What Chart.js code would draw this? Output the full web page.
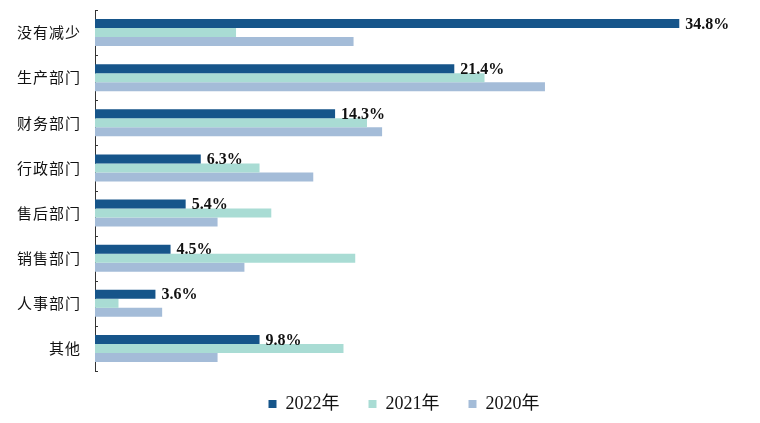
<!DOCTYPE html>
<html>
<head>
<meta charset="utf-8">
<script src="https://cdn.jsdelivr.net/npm/chart.js@4/dist/chart.umd.min.js"></script>
<style>
    html, body { margin: 0; padding: 0; background: #fff; }
    #wrap { width: 760px; height: 423px; }
</style>
</head>
<body>
<div id="wrap"><canvas id="deptChart"></canvas></div>
<script>
const categories = ['没有减少', '生产部门', '财务部门', '行政部门', '售后部门', '销售部门', '人事部门', '其他'];
const seriesNames = ['2022年', '2021年', '2020年'];
const values2022 = [34.8, 21.4, 14.3, 6.3, 5.4, 4.5, 3.6, 9.8];
const values2021 = [8.4, 23.2, 16.2, 9.8, 10.5, 15.5, 1.4, 14.8];
const values2020 = [15.4, 26.8, 17.1, 13.0, 7.3, 8.9, 4.0, 7.3];
const labels2022 = ['34.8%', '21.4%', '14.3%', '6.3%', '5.4%', '4.5%', '3.6%', '9.8%'];

const colors = ['#16558a', '#a9dcd4', '#a4bcd8'];
const serifFont = "'Liberation Serif', 'Noto Sans CJK SC', serif";

// value labels next to the 2022 bars
const valueLabels = {
    id: 'valueLabels',
    afterDatasetsDraw(chart) {
        const ctx = chart.ctx;
        const meta = chart.getDatasetMeta(0);
        ctx.save();
        ctx.font = "bold 16px 'Liberation Serif', serif";
        ctx.fillStyle = '#111';
        ctx.textAlign = 'left';
        ctx.textBaseline = 'middle';
        meta.data.forEach((bar, i) => {
            ctx.fillText(labels2022[i], bar.x + 6, bar.y + 1);
        });
        ctx.restore();
    }
};

// category names and short inward ticks on the y axis
const yAxisExtras = {
    id: 'yAxisExtras',
    afterLayout(chart) {
        // pull the legend row up a little closer to the bars
        if (chart.legend) {
            chart.legend.top -= 5;
            chart.legend.bottom -= 5;
        }
    },
    afterDraw(chart) {
        const ctx = chart.ctx;
        const y = chart.scales.y;
        const left = chart.chartArea.left;
        ctx.save();
        ctx.strokeStyle = '#333';
        ctx.lineWidth = 1;
        for (let i = 0; i <= categories.length; i++) {
            const py = Math.round(y.getPixelForValue(i - 0.5)) + 0.5;
            ctx.beginPath();
            ctx.moveTo(left, py);
            ctx.lineTo(left + 3, py);
            ctx.stroke();
        }
        ctx.font = "15px 'Noto Sans CJK SC', sans-serif";
        ctx.letterSpacing = '1px';
        ctx.fillStyle = '#111';
        ctx.textAlign = 'right';
        ctx.textBaseline = 'middle';
        categories.forEach((name, i) => {
            ctx.fillText(name, left - 14, y.getPixelForValue(i));
        });
        ctx.restore();
    }
};

const ctx = document.getElementById('deptChart').getContext('2d');
new Chart(ctx, {
    type: 'bar',
    data: {
        labels: categories,
        datasets: [
            { label: seriesNames[0], data: values2022, backgroundColor: colors[0] },
            { label: seriesNames[1], data: values2021, backgroundColor: colors[1] },
            { label: seriesNames[2], data: values2020, backgroundColor: colors[2] }
        ]
    },
    options: {
        indexAxis: 'y',
        responsive: true,
        maintainAspectRatio: false,
        animation: false,
        layout: {
            padding: { left: 75, right: 27, top: 10, bottom: -5 }
        },
        datasets: {
            bar: {
                categoryPercentage: 0.6,
                barPercentage: 1.0,
                borderWidth: 0
            }
        },
        scales: {
            x: {
                display: false,
                min: 0,
                max: 38
            },
            y: {
                grid: { display: false, drawTicks: false },
                border: { display: true, color: '#333', width: 1 },
                ticks: { display: false },
                afterFit(scale) {
                    scale.width = 20;
                }
            }
        },
        plugins: {
            legend: {
                position: 'bottom',
                labels: {
                    boxWidth: 8,
                    boxHeight: 8,
                    padding: 29,
                    color: '#111',
                    font: { family: serifFont, size: 18 }
                }
            },
            tooltip: { enabled: false }
        }
    },
    plugins: [valueLabels, yAxisExtras]
});
</script>
</body>
</html>
